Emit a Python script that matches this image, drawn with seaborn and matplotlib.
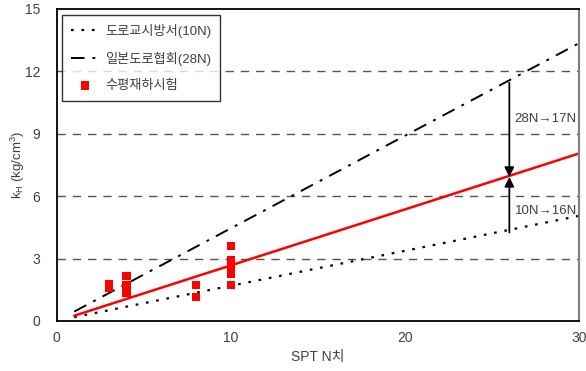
import matplotlib
matplotlib.use("Agg")
import matplotlib.pyplot as plt
import seaborn as sns
import pandas as pd

sns.set_style("white")
plt.rcParams['font.family'] = ['Liberation Sans', 'Noto Sans CJK KR', 'DejaVu Sans']
plt.rcParams['axes.unicode_minus'] = False

# Data
spec_n = [1, 30]
spec_k = [0.18, 5.05]          # 도로교시방서(10N)
jra_n = [1, 30]
jra_k = [0.45, 13.35]          # 일본도로협회(28N)
fit_n = [1, 30]
fit_k = [0.25, 8.05]           # 회귀선
test_n = [3, 3, 4, 4, 4, 8, 8, 10, 10, 10, 10, 10]
test_k = [1.75, 1.58, 2.15, 1.73, 1.35, 1.72, 1.15, 3.6, 2.93, 2.6, 2.25, 1.72]
arrow_n = 26
arrow_top = 11.45
arrow_mid = 6.92
arrow_bot = 4.25

labels = ['도로교시방서(10N)', '일본도로협회(28N)', '수평재하시험']

fig = plt.figure(figsize=(5.86, 3.71), dpi=100)
ax = fig.add_axes([0.097, 0.135, 0.891, 0.841])

txtc = '#404040'

for y in [3, 6, 9, 12]:
    ax.axhline(y, color='#555555', lw=1.0, ls=(0, (6, 5)), zorder=0)

df_spec = pd.DataFrame({'N': spec_n, 'k': spec_k})
df_jra = pd.DataFrame({'N': jra_n, 'k': jra_k})
df_fit = pd.DataFrame({'N': fit_n, 'k': fit_k})
df_test = pd.DataFrame({'N': test_n, 'k': test_k})

sns.lineplot(data=df_spec, x='N', y='k', ax=ax, color='black', lw=1.6,
             linestyle=(0, (1.2, 3.5)), label=labels[0])
sns.lineplot(data=df_jra, x='N', y='k', ax=ax, color='black', lw=1.4,
             linestyle=(0, (7, 4, 1.5, 4)), label=labels[1])
sns.lineplot(data=df_fit, x='N', y='k', ax=ax, color='#ff0000', lw=1.8,
             label='_fit')
sns.scatterplot(data=df_test, x='N', y='k', ax=ax, color='#ff0000', marker='s',
                s=36, edgecolor='none', label=labels[2], zorder=5)

# arrows
ax.annotate('', xy=(arrow_n, arrow_mid), xytext=(arrow_n, arrow_top),
            arrowprops=dict(arrowstyle='-|>', color='black', lw=1.3,
                            mutation_scale=14, shrinkA=0, shrinkB=0))
ax.annotate('', xy=(arrow_n, arrow_mid), xytext=(arrow_n, arrow_bot),
            arrowprops=dict(arrowstyle='-|>', color='black', lw=1.3,
                            mutation_scale=14, shrinkA=0, shrinkB=0))
ax.text(26.3, 9.7, '28N→17N', fontsize=9.5, color=txtc, va='center', ha='left')
ax.text(26.3, 5.3, '10N→16N', fontsize=9.5, color=txtc, va='center', ha='left')

ax.set_xlim(0, 30)
ax.set_ylim(0, 15)
ax.set_xticks([0, 10, 20, 30])
ax.set_yticks([0, 3, 6, 9, 12, 15])
ax.tick_params(axis='x', direction='in', length=4, color='black', labelcolor=txtc,
               labelsize=10, pad=7)
ax.tick_params(axis='y', direction='in', length=0, labelcolor=txtc, labelsize=10, pad=12)
ax.set_xlabel('SPT N치', fontsize=10, color=txtc, labelpad=4)
ax.set_ylabel('k$_{\\mathregular{H}}$ (kg/cm$^{\\mathregular{3}}$)', fontsize=9.5,
              color=txtc)
ax.yaxis.set_label_coords(-0.057, 0.5)

for s in ['left', 'bottom', 'top']:
    ax.spines[s].set_color('black')
    ax.spines[s].set_linewidth(1.3)
ax.spines['right'].set_color('#808080')
ax.spines['right'].set_linewidth(1.5)

leg = ax.legend(loc='upper left', bbox_to_anchor=(0.009, 0.982), frameon=True,
                fancybox=False, edgecolor='black', fontsize=9.5, handlelength=2.2,
                labelspacing=1.05, borderpad=0.7, handletextpad=0.4, borderaxespad=0)
leg.get_frame().set_linewidth(1.0)
for t in leg.get_texts():
    t.set_color(txtc)

fig.savefig('out.png', dpi=100)
